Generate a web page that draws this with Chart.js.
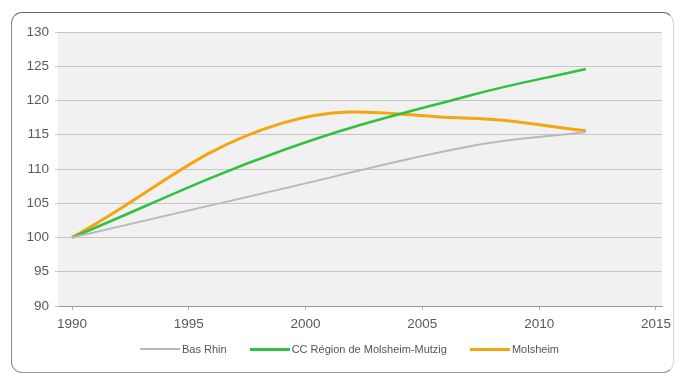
<!DOCTYPE html>
<html>
<head>
<meta charset="utf-8">
<script src="https://cdn.jsdelivr.net/npm/chart.js@4/dist/chart.umd.min.js"></script>
<style>
  html, body { margin: 0; padding: 0; background: #fff; }
  #wrap { position: relative; width: 678px; height: 374px; overflow: hidden; }
  #card {
    position: absolute; left: 11px; top: 12px; width: 663px; height: 361px;
    box-sizing: border-box; border: 1.5px solid #8a8a8a;
    border-top-color: #6e6e6e; border-right-color: #d6d6d6; border-bottom-color: #9a9a9a;
    border-radius: 11px;
  }
  canvas { position: absolute; left: 0; top: 0; }
  #legend {
    position: absolute; left: 140px; top: 343px; display: flex; align-items: center;
    font: 11px "Liberation Sans", Arial, sans-serif; color: #555; white-space: nowrap;
  }
  .item { display: flex; align-items: center; margin-right: 23px; }
  .swatch { width: 40px; margin-right: 2px; }
</style>
</head>
<body>
<div id="wrap">
  <div id="card"></div>
  <canvas id="c" width="678" height="374"></canvas>
  <div id="legend"></div>
</div>
<script>
// Population index, base 100 in 1990
const years = [1990, 1999, 2007, 2012];
const basRhin = [100, 107.1, 113.3, 115.4];
const ccRegion = [100, 112.7, 120.7, 124.6];
const molsheim = [100, 116.7, 117.4, 115.6];

const seriesNames = ['Bas Rhin', 'CC Région de Molsheim-Mutzig', 'Molsheim'];
const seriesColors = ['#b9b9bd', '#2fc13f', '#f5a412'];
const seriesWidths = [2, 2.5, 3];

const xTicks = [1990, 1995, 2000, 2005, 2010, 2015];
const yTicks = [90, 95, 100, 105, 110, 115, 120, 125, 130];

const toPoints = vals => years.map((y, i) => ({ x: y, y: vals[i] }));
const seriesValues = [basRhin, ccRegion, molsheim];

const tickFont = { family: '"Liberation Sans", Arial, sans-serif', size: 13.5 };

// light grey fill behind the plotting area
const plotBg = {
  id: 'plotBg',
  beforeDraw(chart) {
    const { ctx, chartArea: a } = chart;
    ctx.save();
    ctx.fillStyle = '#f1f1f1';
    ctx.fillRect(a.left, a.top, a.right - a.left, a.bottom - a.top);
    ctx.restore();
  }
};

new Chart(document.getElementById('c'), {
  type: 'line',
  data: {
    datasets: seriesValues.map((vals, i) => ({
      label: seriesNames[i],
      data: toPoints(vals),
      borderColor: seriesColors[i],
      backgroundColor: seriesColors[i],
      borderWidth: seriesWidths[i],
      pointRadius: 0,
      tension: 0.4,
      fill: false
    }))
  },
  options: {
    responsive: false,
    animation: false,
    devicePixelRatio: 1,
    layout: { padding: { top: 32, right: 16, left: 0, bottom: 0 } },
    plugins: { legend: { display: false }, tooltip: { enabled: false } },
    scales: {
      x: {
        type: 'linear',
        min: 1989.4,
        max: 2015.26,
        afterBuildTicks: s => { s.ticks = xTicks.map(v => ({ value: v })); },
        afterFit: s => { s.height = 68; },
        grid: { drawOnChartArea: false, drawTicks: true, tickLength: 4, color: '#b0b0b0' },
        border: { display: true, color: '#9a9a9a', width: 1 },
        ticks: { padding: 6, font: tickFont, color: '#5a5a5a', maxRotation: 0, autoSkip: false,
                 callback: v => String(v) }
      },
      y: {
        min: 90,
        max: 130,
        afterBuildTicks: s => { s.ticks = yTicks.map(v => ({ value: v })); },
        afterFit: s => { s.width = 58; },
        grid: { color: '#c6c6c6', lineWidth: 1, tickLength: 3 },
        border: { display: false },
        ticks: { padding: 6, font: tickFont, color: '#5a5a5a', callback: v => String(v) }
      }
    }
  },
  plugins: [plotBg]
});

// legend row under the axis
const legend = document.getElementById('legend');
seriesNames.forEach((name, i) => {
  const item = document.createElement('div');
  item.className = 'item';
  const sw = document.createElement('span');
  sw.className = 'swatch';
  sw.style.height = (i === 0 ? 1.5 : 3) + 'px';
  sw.style.background = seriesColors[i];
  const tx = document.createElement('span');
  tx.textContent = name;
  item.appendChild(sw);
  item.appendChild(tx);
  legend.appendChild(item);
});
</script>
</body>
</html>
